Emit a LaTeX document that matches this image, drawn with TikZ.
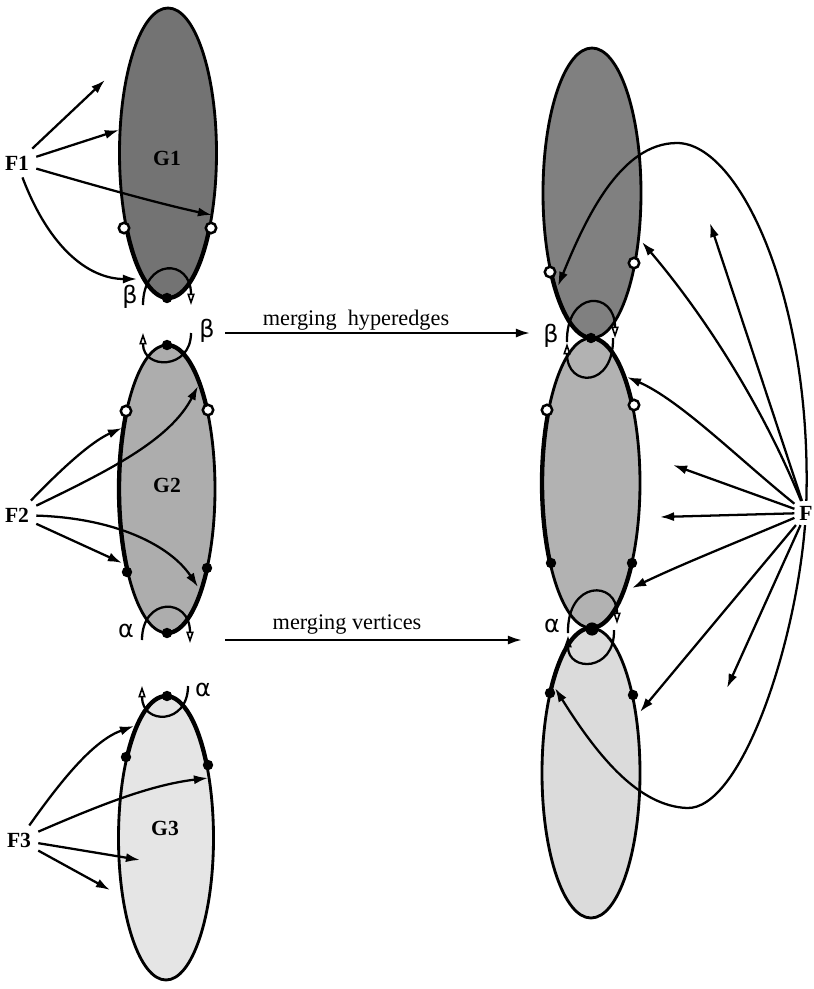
\documentclass[tikz,border=0pt]{standalone}
\usepackage{fontspec}
\setmainfont{Liberation Serif}
\newfontfamily\greekfont{DejaVu Sans}
\usetikzlibrary{arrows.meta}

\tikzset{
  region/.style={draw,line width=1.25pt},
  tentacle/.style={line width=1.9pt},
  vdot/.style={circle,fill,inner sep=0pt,minimum size=4.6pt},
  vring/.style={circle,draw,fill=white,line width=1.1pt,inner sep=0pt,minimum size=4.6pt},
  lbl/.style={font=\bfseries\fontsize{9.5}{11}\selectfont,inner sep=3pt},
  greek/.style={font=\greekfont\fontsize{10.5}{12}\selectfont,inner sep=0pt},
  mlbl/.style={font=\fontsize{9.8}{11}\selectfont},
  conn/.style={line width=1pt,-{Latex[length=6.2pt,width=4pt]}},
  hyp/.style={line width=1pt},
  hypend/.style={-{Triangle[open,length=5pt,width=3.2pt,line width=0.7pt]}},
  hypstart/.style={{Triangle[open,length=5pt,width=3.2pt,line width=0.7pt]}-}
}

\begin{document}
\begin{tikzpicture}[x=0.44pt,y=-0.44pt]
  \useasboundingbox (0,0) rectangle (813,989);

  \filldraw[region,fill=black!55] (168,153) ellipse [x radius=48.5,y radius=145];
  \filldraw[region,fill=black!32] (167,489) ellipse [x radius=48,y radius=144];
  \filldraw[region,fill=black!10] (166,838) ellipse [x radius=47.5,y radius=142];
  \filldraw[region,fill=black!50] (592,193) ellipse [x radius=49,y radius=145];
  \filldraw[region,fill=black!30] (591,483) ellipse [x radius=49,y radius=145];
  \filldraw[region,fill=black!14] (591,773) ellipse [x radius=49,y radius=145];

  \draw[tentacle] (168,298) arc[start angle=90,end angle=150,x radius=48.5,y radius=145];
  \draw[tentacle] (210,225.5) arc[start angle=30,end angle=90,x radius=48.5,y radius=145];
  \draw[tentacle] (167,345) arc[start angle=-90,end angle=-33,x radius=48,y radius=144];
  \draw[tentacle] (127.7,571.6) arc[start angle=145,end angle=213,x radius=48,y radius=144];
  \draw[tentacle] (207.3,567.5) arc[start angle=33,end angle=90,x radius=48,y radius=144];
  \draw[tentacle] (127.1,756.6) arc[start angle=215,end angle=270,x radius=47.5,y radius=142];
  \draw[tentacle] (166,696) arc[start angle=-90,end angle=-29,x radius=47.5,y radius=142];
  \draw[tentacle] (592,338) arc[start angle=90,end angle=147,x radius=49,y radius=145];
  \draw[tentacle] (591,338) arc[start angle=-90,end angle=-32,x radius=49,y radius=145];
  \draw[tentacle] (550.4,564.1) arc[start angle=146,end angle=210,x radius=49,y radius=145];
  \draw[tentacle] (631.6,564.1) arc[start angle=34,end angle=90,x radius=49,y radius=145];
  \draw[tentacle] (549.9,694) arc[start angle=213,end angle=270,x radius=49,y radius=145];

  \node[lbl] (G1) at (167,158) {G1};
  \node[lbl] (G2) at (167,485) {G2};
  \node[lbl] (G3) at (165,828) {G3};
  \node[lbl] (F1) at (17,163) {F1};
  \node[lbl] (F2) at (17,515) {F2};
  \node[lbl] (F3) at (19,840) {F3};
  \node[lbl,inner sep=2pt] (F) at (806,513) {F};

  \draw[hyp,hypend] (143,305) .. controls (143,258) and (191,258) .. (191,305);
  \draw[hyp,hypstart] (143,333) .. controls (143,370) and (191,370) .. (191,333);
  \draw[hyp,hypend] (142,640) .. controls (142,597) and (190,597) .. (190,643);
  \draw[hyp,hypstart] (142,686) .. controls (142,725) and (188,725) .. (188,686);
  \draw[hyp,hypend] (567,342) .. controls (566,290) and (615,290) .. (615,338);
  \draw[hyp,hypstart] (567,343) .. controls (567,388) and (614,388) .. (613,338);
  \draw[hyp,hypend] (568,633) .. controls (567,580) and (617,580) .. (617,624);
  \draw[hyp,hypstart] (568,636) .. controls (568,672) and (615,672) .. (614,630);

  \node[greek] (lb1) at (130,297) {β};
  \node[greek] (lb2) at (207,331) {β};
  \node[greek] (la1) at (126,631) {α};
  \node[greek] (la2) at (203,690) {α};
  \node[greek] (lb3) at (551,336) {β};
  \node[greek] (la3) at (552,626) {α};

  \node[vring] (v11) at (124,228) {};
  \node[vring] (v12) at (211,228) {};
  \node[vdot] (e1) at (167,298) {};
  \node[vdot] (e2) at (167,345) {};
  \node[vring] (v21) at (126,411) {};
  \node[vring] (v22) at (208,410) {};
  \node[vdot] (v23) at (127,572) {};
  \node[vdot] (v24) at (207,568) {};
  \node[vdot] (e3) at (167,633) {};
  \node[vdot] (e4) at (167,696) {};
  \node[vdot] (v31) at (126,757) {};
  \node[vdot] (v32) at (208,765) {};
  \node[vring] (w11) at (550,272) {};
  \node[vring] (w12) at (634,263) {};
  \node[vdot] (eb) at (591,338) {};
  \node[vring] (w21) at (547,410) {};
  \node[vring] (w22) at (634,405) {};
  \node[vdot] (w23) at (551,563) {};
  \node[vdot] (w24) at (632,563) {};
  \node[vdot,minimum size=5.8pt] (ea) at (592,629) {};
  \node[vdot] (w31) at (550,693) {};
  \node[vdot] (w32) at (633,695) {};

  \coordinate (mh0) at (225,333);
  \coordinate (mh1) at (530,333);
  \coordinate (mv0) at (225,640);
  \coordinate (mv1) at (522,640);
  \draw[conn] (mh0) -- (mh1);
  \draw[conn] (mv0) -- (mv1);
  \node[mlbl] (mh) at (356,320) {merging\ \ hyperedges};
  \node[mlbl] (mv) at (347,625) {merging vertices};

  \coordinate (f1a) at (105,80);
  \coordinate (f1b) at (119,130);
  \coordinate (f1c) at (212,215);
  \coordinate (f1d) at (137,279);
  \draw[conn] (F1) -- (f1a);
  \draw[conn] (F1) -- (f1b);
  \draw[conn] (F1) .. controls (110,190) and (165,205) .. (f1c);
  \draw[conn] (F1) .. controls (50,250) and (90,279) .. (f1d);

  \coordinate (f2a) at (122,428);
  \coordinate (f2b) at (198,386);
  \coordinate (f2c) at (198,587);
  \coordinate (f2d) at (122,563);
  \draw[conn] (F2) .. controls (70,460) and (95,440) .. (f2a);
  \draw[conn] (F2) .. controls (110,470) and (170,440) .. (f2b);
  \draw[conn] (F2) .. controls (115,518) and (170,545) .. (f2c);
  \draw[conn] (F2) -- (f2d);

  \coordinate (f3a) at (134,726);
  \coordinate (f3b) at (208,778);
  \coordinate (f3c) at (140,860);
  \coordinate (f3d) at (110,890);
  \draw[conn] (F3) .. controls (65,775) and (95,740) .. (f3a);
  \draw[conn] (F3) .. controls (100,805) and (150,785) .. (f3b);
  \draw[conn] (F3) .. controls (80,850) and (110,855) .. (f3c);
  \draw[conn] (F3) -- (f3d);

  \coordinate (fa) at (558,286);
  \coordinate (fb) at (710,223);
  \coordinate (fc) at (642,242);
  \coordinate (fd) at (627,377);
  \coordinate (fe) at (673,465);
  \coordinate (ff) at (660,517);
  \coordinate (fg) at (632,588);
  \coordinate (fh) at (640,712);
  \coordinate (fi) at (727,688);
  \coordinate (fj) at (555,688);
  \draw[conn] (F) .. controls (812,300) and (740,143) .. (677,143)
    .. controls (620,143) and (585,220) .. (fa);
  \draw[conn] (F) -- (fb);
  \draw[conn] (F) .. controls (760,400) and (700,310) .. (fc);
  \draw[conn] (F) .. controls (740,460) and (680,400) .. (fd);
  \draw[conn] (F) -- (fe);
  \draw[conn] (F) -- (ff);
  \draw[conn] (F) .. controls (730,545) and (680,565) .. (fg);
  \draw[conn] (F) -- (fh);
  \draw[conn] (F) -- (fi);
  \draw[conn] (F) .. controls (795,650) and (740,810) .. (687,808)
    .. controls (640,806) and (600,760) .. (fj);
\end{tikzpicture}
\end{document}
